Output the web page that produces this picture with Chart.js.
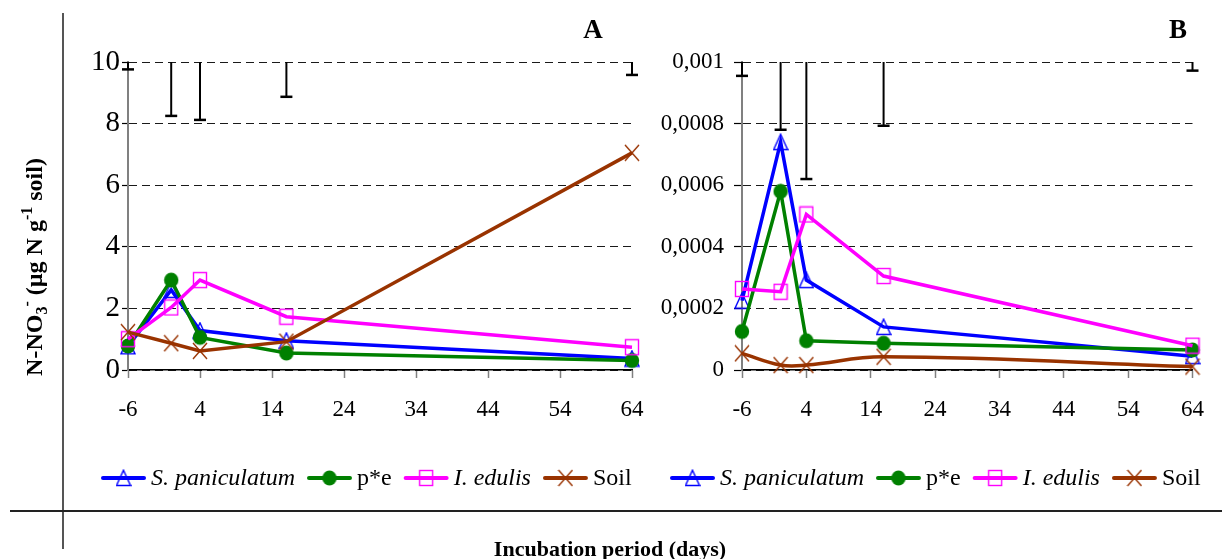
<!DOCTYPE html>
<html>
<head>
<meta charset="utf-8">
<script src="https://cdn.jsdelivr.net/npm/chart.js@4.4.1/dist/chart.umd.min.js"></script>
<style>
  html, body { margin: 0; padding: 0; background: #fff; }
  #wrap { position: relative; width: 1222px; height: 559px; overflow: hidden; }
  #wrap canvas { position: absolute; left: 0; top: 0; }
</style>
</head>
<body>
<div id="wrap">
  <canvas id="chartA" width="1222" height="559"></canvas>
  <canvas id="chartB" width="1222" height="559"></canvas>
</div>
<script>
// Sampling days and axis ticks
const days = [-6, 0, 4, 16, 64];
const xTicks = [-6, 4, 14, 24, 34, 44, 54, 64];
const yTicksA = [0, 2, 4, 6, 8, 10];
const yTicksB = [0, 0.0002, 0.0004, 0.0006, 0.0008, 0.001];
const seriesNames = ['S. paniculatum', 'p*e', 'I. edulis', 'Soil'];

// Panel A: N-NO3- (µg N g-1 soil)
const spanA = [0.77, 2.6, 1.28, 0.95, 0.37];
const peA   = [0.78, 2.92, 1.06, 0.55, 0.31];
const iedA  = [1.0, 2.03, 2.92, 1.73, 0.74];
const soilA = [1.23, 0.87, 0.62, 0.92, 7.05];
// lower ends of the error bars (upper ends run off the top of the axis)
const errLowA = [9.76, 8.25, 8.12, 8.87, 9.58];

// Panel B
const spanB = [0.000225, 0.00074, 0.000292, 0.00014, 0.000045];
const peB   = [0.000125, 0.00058, 0.000095, 0.000087, 0.000065];
const iedB  = [0.000263, 0.000254, 0.000505, 0.000305, 0.000079];
const soilB = [0.000054, 0.000016, 0.000016, 0.000043, 0.000011];
const errLowB = [0.000955, 0.00078, 0.00062, 0.000793, 0.000972];

const FONT = '"Liberation Serif", "Times New Roman", serif';
Chart.defaults.font.family = FONT;
Chart.defaults.color = '#000';

const colors = ['#0000ff', '#008000', '#ff00ff', '#993300'];
const italic = [true, false, true, false];

// Marker glyphs drawn once into small canvases
function makeMarker(kind, color) {
  const c = document.createElement('canvas');
  c.width = 16; c.height = 18;
  const g = c.getContext('2d');
  g.strokeStyle = color; g.fillStyle = color; g.lineWidth = 1.4;
  if (kind === 'triangle') {
    g.beginPath(); g.moveTo(8, 1.2); g.lineTo(15, 16.5); g.lineTo(1, 16.5); g.closePath(); g.stroke();
  } else if (kind === 'circle') {
    g.beginPath(); g.ellipse(8, 9, 7.2, 7.6, 0, 0, Math.PI * 2); g.fill();
  } else if (kind === 'square') {
    g.strokeRect(1.5, 1.5, 13, 15);
  } else {
    g.beginPath(); g.moveTo(1, 1); g.lineTo(15, 17); g.moveTo(15, 1); g.lineTo(1, 17); g.stroke();
  }
  return c;
}
const markers = [
  makeMarker('triangle', colors[0]),
  makeMarker('circle', colors[1]),
  makeMarker('square', colors[2]),
  makeMarker('cross', colors[3])
];

function buildDatasets(values, soilTension) {
  return seriesNames.map((name, i) => ({
    label: name,
    data: days.map((d, j) => ({ x: d, y: values[i][j] })),
    borderColor: colors[i],
    backgroundColor: colors[i],
    borderWidth: 3.5,
    pointStyle: markers[i],
    pointRadius: 8,
    pointHoverRadius: 8,
    tension: i === 3 ? soilTension : 0,
    fill: false,
    clip: false,
    order: 3 - i
  }));
}

function buildScales(yTicks, yMax, yFontSize, yTickLen, yPad, yFmt) {
  return {
    x: {
      type: 'linear', min: -6, max: 64,
      afterBuildTicks: s => { s.ticks = xTicks.map(v => ({ value: v })); },
      afterFit: s => { s.height = 60; },
      ticks: { font: { size: 23 }, color: '#000', padding: 18, autoSkip: false, maxRotation: 0,
               callback: v => String(v) },
      grid: { drawOnChartArea: false, drawTicks: true, tickLength: 8, tickColor: '#808080', tickWidth: 1.5 },
      border: { color: '#000', width: 1.5 }
    },
    y: {
      type: 'linear', min: 0, max: yMax,
      afterBuildTicks: s => { s.ticks = yTicks.map(v => ({ value: v })); },
      afterFit: s => { s.width = 90; },
      ticks: { font: { size: yFontSize }, color: '#000', padding: yPad, callback: yFmt },
      grid: { color: '#1a1a1a', lineWidth: 1, tickLength: yTickLen, tickColor: '#000', tickWidth: 1.2 },
      border: { color: '#808080', width: 2, dash: [8, 5] }
    }
  };
}

// Error bars hanging down from the top of the plot
function errorBars(lows) {
  return {
    id: 'errorBars',
    afterDatasetsDraw(chart) {
      const { ctx, chartArea, scales } = chart;
      ctx.save();
      ctx.strokeStyle = '#000';
      days.forEach((d, j) => {
        const x = scales.x.getPixelForValue(d);
        const y1 = scales.y.getPixelForValue(lows[j]);
        ctx.lineWidth = 2;
        ctx.beginPath(); ctx.moveTo(x, chartArea.top); ctx.lineTo(x, y1); ctx.stroke();
        ctx.lineWidth = 2.5;
        ctx.beginPath(); ctx.moveTo(x - 6, y1); ctx.lineTo(x + 6, y1); ctx.stroke();
      });
      ctx.restore();
    }
  };
}

// Legend row: line sample with marker, then the series name
function drawLegend(ctx, startX, cy) {
  let x = startX;
  const lineLen = 45;
  ctx.save();
  ctx.textBaseline = 'middle';
  ctx.textAlign = 'left';
  seriesNames.forEach((name, i) => {
    ctx.strokeStyle = colors[i];
    ctx.lineWidth = 4;
    ctx.lineCap = 'round';
    ctx.beginPath(); ctx.moveTo(x + 2, cy); ctx.lineTo(x + lineLen - 2, cy); ctx.stroke();
    const m = markers[i];
    ctx.drawImage(m, x + lineLen / 2 - m.width / 2, cy - m.height / 2);
    ctx.font = (italic[i] ? 'italic ' : '') + '24px ' + FONT;
    ctx.fillStyle = '#000';
    const tx = x + lineLen + 5;
    ctx.fillText(name, tx, cy + 1);
    x = tx + ctx.measureText(name).width + 12;
  });
  ctx.restore();
}

// Text with sub/superscript runs, centred on (cx, cy), optionally rotated
function drawRich(ctx, parts, cx, cy, angle) {
  ctx.save();
  ctx.translate(cx, cy);
  ctx.rotate(angle);
  ctx.textBaseline = 'alphabetic';
  ctx.textAlign = 'left';
  let total = 0;
  parts.forEach(p => { ctx.font = 'bold ' + p.size + 'px ' + FONT; p.w = ctx.measureText(p.t).width; total += p.w; });
  let x = -total / 2;
  parts.forEach(p => {
    ctx.font = 'bold ' + p.size + 'px ' + FONT;
    ctx.fillStyle = '#000';
    ctx.fillText(p.t, x, 8 + p.dy);
    x += p.w;
  });
  ctx.restore();
}

const frame = {
  id: 'frame',
  afterDraw(chart) {
    const ctx = chart.ctx;
    ctx.save();
    ctx.strokeStyle = '#555';
    ctx.lineWidth = 2;
    ctx.beginPath(); ctx.moveTo(63, 13); ctx.lineTo(63, 549); ctx.stroke();
    ctx.strokeStyle = '#222';
    ctx.beginPath(); ctx.moveTo(10, 511); ctx.lineTo(1222, 511); ctx.stroke();
    ctx.restore();

    drawRich(ctx, [
      { t: 'N-NO', size: 24, dy: 0 },
      { t: '3', size: 16, dy: 5 },
      { t: '-', size: 16, dy: -10 },
      { t: ' (µg N g', size: 24, dy: 0 },
      { t: '-1', size: 16, dy: -10 },
      { t: ' soil)', size: 24, dy: 0 }
    ], 34, 267, -Math.PI / 2);

    ctx.save();
    ctx.font = 'bold 22px ' + FONT;
    ctx.textAlign = 'center';
    ctx.textBaseline = 'alphabetic';
    ctx.fillStyle = '#000';
    ctx.fillText('Incubation period (days)', 610, 556);
    ctx.restore();
  }
};

function panelLetter(letter, x) {
  return {
    id: 'letter' + letter,
    afterDraw(chart) {
      const ctx = chart.ctx;
      ctx.save();
      ctx.font = 'bold 27px ' + FONT;
      ctx.textAlign = 'center';
      ctx.textBaseline = 'alphabetic';
      ctx.fillStyle = '#000';
      ctx.fillText(letter, x, 38);
      ctx.restore();
    }
  };
}

function legendAt(startX) {
  return { id: 'legendRow', afterDraw(chart) { drawLegend(chart.ctx, startX, 478); } };
}

const common = {
  responsive: false,
  animation: false,
  devicePixelRatio: 1,
  events: [],
  plugins: { legend: { display: false }, tooltip: { enabled: false } }
};

new Chart(document.getElementById('chartA'), {
  type: 'line',
  data: { datasets: buildDatasets([spanA, peA, iedA, soilA], 0) },
  options: Object.assign({}, common, {
    layout: { autoPadding: false, padding: { left: 128 - 90, right: 1222 - 632, top: 62, bottom: 559 - 370 - 60 } },
    scales: buildScales(yTicksA, 10, 29, 6, 2, v => String(v))
  }),
  plugins: [errorBars(errLowA), frame, panelLetter('A', 593), legendAt(101)]
});

new Chart(document.getElementById('chartB'), {
  type: 'line',
  data: { datasets: buildDatasets([spanB, peB, iedB, soilB], 0.4) },
  options: Object.assign({}, common, {
    layout: { autoPadding: false, padding: { left: 742 - 90, right: 1222 - 1206, top: 62, bottom: 559 - 370 - 60 } },
    scales: buildScales(yTicksB, 0.001, 23, 8, 10, v => String(v).replace('.', ','))
  }),
  plugins: [errorBars(errLowB), panelLetter('B', 1178), legendAt(670)]
});
</script>
</body>
</html>
